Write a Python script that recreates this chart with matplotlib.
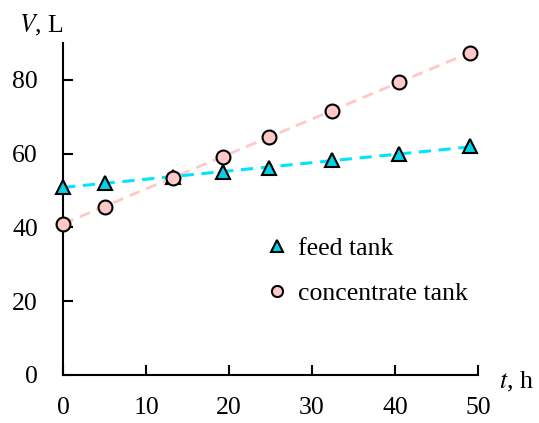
import numpy as np
import matplotlib
matplotlib.use('Agg')
import matplotlib.pyplot as plt

# data
t_hours = [0, 5, 13.2, 19.3, 24.8, 32.4, 40.5, 49]
feed_tank = [51, 52, 53.7, 55, 56.2, 58.2, 59.8, 62]
concentrate_tank = [41, 45.6, 53.5, 59.2, 64.6, 71.6, 79.4, 87.3]

plt.rcParams['font.family'] = ['Liberation Serif', 'DejaVu Serif']
plt.rcParams['font.size'] = 18.5

fig = plt.figure(figsize=(5.39, 4.23), dpi=100)
ax = fig.add_axes([0.117, 0.1135, 0.77, 0.785])

t = np.array(t_hours)
# linear trend lines
k1, b1 = np.polyfit(t, feed_tank, 1)
k2, b2 = np.polyfit(t, concentrate_tank, 1)
tt = np.array([0, max(t_hours)])
ax.plot(tt, k2 * tt + b2, ls=(0, (4, 2.5)), color='#ffc8c8', lw=2, zorder=1)
ax.plot(tt, k1 * tt + b1, ls=(0, (4, 2.5)), color='#00e5ff', lw=2.2, zorder=1)

ax.plot(t_hours, feed_tank, ls='none', marker='^', ms=10, mfc='#00d2e8',
        mec='black', mew=1.5, label='feed tank', zorder=3, clip_on=False)
ax.plot(t_hours, concentrate_tank, ls='none', marker='o', ms=10, mfc='#ffc8c8',
        mec='black', mew=1.5, label='concentrate tank', zorder=3, clip_on=False)

ax.set_xlim(0, 50)
ax.set_ylim(0, 90)
ax.set_xticks([0, 10, 20, 30, 40, 50])
ax.set_yticks([0, 20, 40, 60, 80])
ax.tick_params(direction='in', length=7, width=1.5)
ax.tick_params(axis='x', pad=16)
ax.tick_params(axis='y', pad=18)
for s in ['top', 'right']:
    ax.spines[s].set_visible(False)
for s in ['left', 'bottom']:
    ax.spines[s].set_linewidth(1.5)

ax.text(-0.105, 1.015, '$V$, L', transform=ax.transAxes,
        ha='left', va='bottom', math_fontfamily='stix')
ax.text(1.05, -0.02, '$t$, h', transform=ax.transAxes,
        ha='left', va='center', math_fontfamily='stix')

ax.legend(loc='center left', bbox_to_anchor=(0.43, 0.312), frameon=False,
          handlelength=1, handletextpad=0.3, labelspacing=0.85, markerscale=0.8)

fig.savefig('out.png', dpi=100)
